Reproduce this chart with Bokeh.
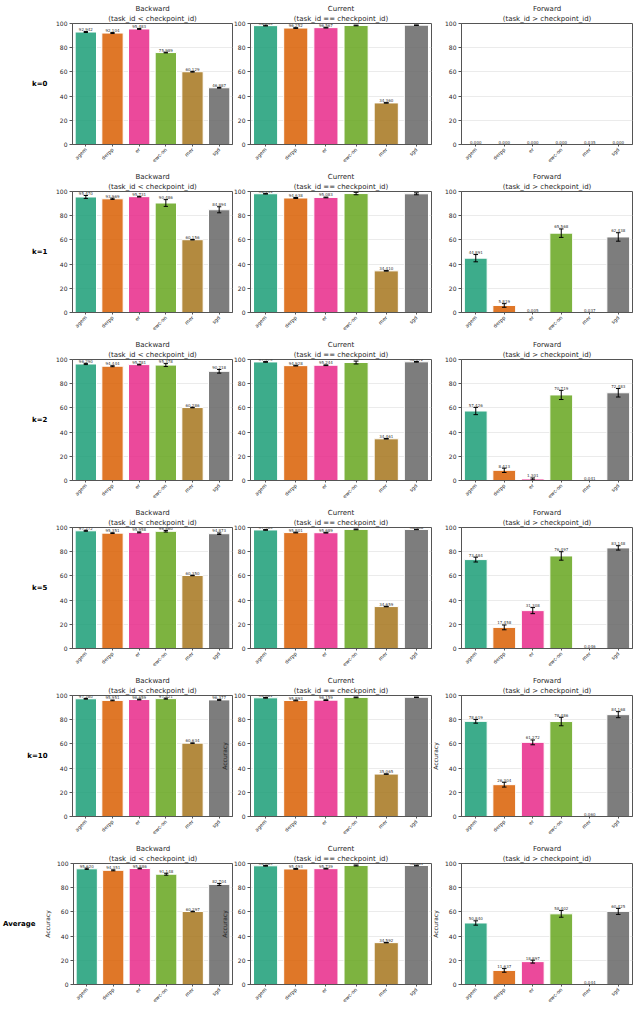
import math
from bokeh.plotting import figure
from bokeh.layouts import column, row
from bokeh.models import Title, FixedTicker, Range1d, ColumnDataSource, LinearAxis
from bokeh.core.properties import value
from bokeh.embed import file_html
from bokeh.resources import INLINE

methods = ["agem", "derpp", "er", "ewc-on", "mer", "sgd"]
colors = ["#1b9e77", "#d95f02", "#e7298a", "#66a61e", "#a6761d", "#666666"]
row_labels = ["k=0", "k=1", "k=2", "k=5", "k=10", "Average"]
panel_titles = [("Backward", "(task_id < checkpoint_id)"),
                ("Current", "(task_id == checkpoint_id)"),
                ("Forward", "(task_id > checkpoint_id)")]

# rows: k=0, k=1, k=2, k=5, k=10, Average ; columns: methods
backward_mean = [
    [92.942, 92.104, 95.483, 75.989, 60.129, 46.887],
    [95.470, 93.969, 95.731, 90.486, 60.156, 84.894],
    [96.290, 94.444, 95.781, 95.378, 60.286, 90.218],
    [97.272, 95.351, 95.958, 96.860, 60.350, 94.873],
    [97.280, 95.951, 96.659, 97.421, 60.634, 96.377],
    [95.620, 94.351, 95.886, 91.148, 60.297, 82.704],
]
backward_err = [
    [0.4, 0.4, 0.3, 0.3, 0.3, 0.3],
    [1.2, 0.5, 0.3, 2.8, 0.2, 2.5],
    [0.5, 0.4, 0.3, 1.2, 0.2, 1.5],
    [0.4, 0.3, 0.4, 0.6, 0.2, 0.6],
    [0.3, 0.3, 0.3, 0.4, 0.2, 0.4],
    [0.5, 0.4, 0.3, 0.8, 0.2, 0.8],
]
current_mean = [
    [98.235, 96.252, 96.567, 98.376, 34.360, 98.611],
    [98.144, 94.638, 95.083, 98.306, 34.410, 98.098],
    [97.979, 94.928, 95.244, 97.508, 34.461, 98.072],
    [97.985, 95.801, 95.689, 98.438, 34.659, 98.408],
    [98.081, 95.893, 96.159, 98.436, 35.065, 98.532],
    [98.089, 95.493, 95.739, 98.366, 34.592, 98.361],
]
current_err = [
    [0.3, 0.3, 0.3, 0.3, 0.2, 0.2],
    [0.3, 0.4, 0.3, 1.0, 0.2, 0.8],
    [0.3, 0.3, 0.3, 1.2, 0.2, 0.3],
    [0.3, 0.3, 0.3, 0.3, 0.2, 0.2],
    [0.3, 0.3, 0.3, 0.3, 0.2, 0.2],
    [0.3, 0.3, 0.3, 0.4, 0.2, 0.3],
]
forward_mean = [
    [0.000, 0.000, 0.000, 0.000, 0.035, 0.000],
    [44.891, 5.819, 0.005, 65.568, 0.037, 62.438],
    [57.426, 8.413, 1.301, 70.719, 0.041, 72.483],
    [73.484, 17.458, 31.308, 76.497, 0.046, 83.148],
    [78.619, 26.304, 61.272, 78.486, 0.060, 84.168],
    [50.840, 11.637, 18.897, 58.402, 0.044, 60.425],
]
forward_err = [
    [0.0, 0.0, 0.0, 0.0, 0.0, 0.0],
    [3.0, 1.5, 0.0, 3.5, 0.0, 3.5],
    [3.0, 1.8, 0.8, 3.8, 0.0, 3.5],
    [2.0, 2.0, 2.5, 3.5, 0.0, 1.8],
    [1.5, 2.0, 2.0, 3.5, 0.0, 2.5],
    [1.8, 1.5, 1.2, 2.8, 0.0, 2.5],
]
y_ticks = [0, 20, 40, 60, 80, 100]

# panels that show an "Accuracy" y label: (row, col)
ylabel_panels = {(4, 1), (4, 2), (5, 0), (5, 1), (5, 2)}

FONT = "DejaVu Sans"
AX = "#555555"
TXT = "#262626"
# (frame width, border left, border right, overlap with previous column)
col_specs = [(160, 72, 1, 0), (181, 17, 1, 22), (171, 29, 7, 12)]

means = [backward_mean, current_mean, forward_mean]
errs = [backward_err, current_err, forward_err]


def make_panel(r, c):
    fw, bl, br, ov = col_specs[c]
    w = fw + bl + br + ov
    p = figure(width=w, height=168, x_range=Range1d(-0.5, 5.5), y_range=Range1d(0, 100),
               output_backend="svg", toolbar_location=None,
               min_border_left=bl + ov, min_border_right=br, min_border_top=23,
               min_border_bottom=20, margin=(0, 0, 0, -ov))
    p.border_fill_color = None
    p.border_fill_alpha = 0
    t2 = Title(text=panel_titles[c][1], align="center", text_font_size="7px",
               text_font_style="normal", text_color=TXT, text_font=FONT, standoff=1)
    t1 = Title(text=panel_titles[c][0], align="center", text_font_size="7px",
               text_font_style="normal", text_color=TXT, text_font=FONT, standoff=0)
    p.add_layout(t2, "above")
    p.add_layout(t1, "above")

    m = means[c][r]
    e = errs[c][r]
    xs = list(range(len(methods)))
    src = ColumnDataSource(dict(x=xs, top=m, color=colors,
                                ly=[v + ee + 0.5 for v, ee in zip(m, e)],
                                lbl=["%.3f" % v for v in m]))
    p.vbar(x="x", top="top", bottom=0, width=0.8, fill_color="color", fill_alpha=0.85,
           line_color="white", line_width=1, source=src)
    ex = [x for x, ee in zip(xs, e) if ee > 0]
    elo = [v - ee for v, ee in zip(m, e) if ee > 0]
    ehi = [v + ee for v, ee in zip(m, e) if ee > 0]
    esrc = ColumnDataSource(dict(x=ex, lo=elo, hi=ehi,
                                 xl=[x - 0.08 for x in ex], xr=[x + 0.08 for x in ex]))
    p.segment(x0="x", y0="lo", x1="x", y1="hi", line_color="black", line_width=1, source=esrc)
    p.segment(x0="xl", y0="lo", x1="xr", y1="lo", line_color="black", line_width=1, source=esrc)
    p.segment(x0="xl", y0="hi", x1="xr", y1="hi", line_color="black", line_width=1, source=esrc)
    p.text(x="x", y="ly", text="lbl", text_align="center", text_baseline="bottom",
           text_font_size="4px", text_color="#333333", text_font=value(FONT), source=src)

    p.xaxis.ticker = FixedTicker(ticks=xs)
    p.xaxis.major_label_overrides = {i: mth for i, mth in enumerate(methods)}
    p.xaxis.major_label_orientation = math.pi / 4
    p.xaxis.major_label_text_font_size = "5px"
    p.xaxis.major_label_text_font = FONT
    p.xaxis.major_label_text_color = TXT
    p.xaxis.major_tick_out = 2
    p.xaxis.major_tick_in = 0
    p.xaxis.minor_tick_line_color = None
    p.xaxis.major_label_standoff = 2
    p.yaxis.ticker = FixedTicker(ticks=y_ticks)
    p.yaxis.major_label_text_font_size = "6px"
    p.yaxis.major_label_text_font = FONT
    p.yaxis.major_label_text_color = TXT
    p.yaxis.major_tick_out = 3
    p.yaxis.major_tick_in = 0
    p.yaxis.minor_tick_line_color = None
    p.yaxis.major_label_standoff = 2
    for ax in (p.xaxis, p.yaxis):
        ax.axis_line_color = AX
        ax.major_tick_line_color = AX
    p.xgrid.visible = False
    p.ygrid.grid_line_color = "#e6e6e6"
    p.ygrid.grid_line_width = 0.8
    p.outline_line_color = AX
    p.outline_line_width = 1
    p.outline_line_alpha = 1

    if (r, c) in ylabel_panels:
        p.yaxis.axis_label = "Accuracy"
        p.yaxis.axis_label_text_font_size = "6px"
        p.yaxis.axis_label_text_font_style = "normal"
        p.yaxis.axis_label_text_font = FONT
        p.yaxis.axis_label_text_color = TXT
        p.yaxis.axis_label_standoff = 3
    if c == 0:
        rl = LinearAxis(axis_label=row_labels[r], ticker=FixedTicker(ticks=[]),
                        axis_line_color=None, major_tick_line_color=None,
                        minor_tick_line_color=None, major_label_text_font_size="0px",
                        axis_label_text_font_size="7px", axis_label_text_font_style="bold",
                        axis_label_text_font=FONT, axis_label_text_color="#000000",
                        axis_label_standoff=6)
        try:
            rl.axis_label_orientation = "horizontal"
        except Exception:
            pass
        p.add_layout(rl, "left")
    return p


rows = []
for r in range(len(row_labels)):
    rows.append(row(*[make_panel(r, c) for c in range(3)], spacing=0))
layout = column(*rows, spacing=0)

open("out.html", "w").write(file_html(layout, INLINE))
